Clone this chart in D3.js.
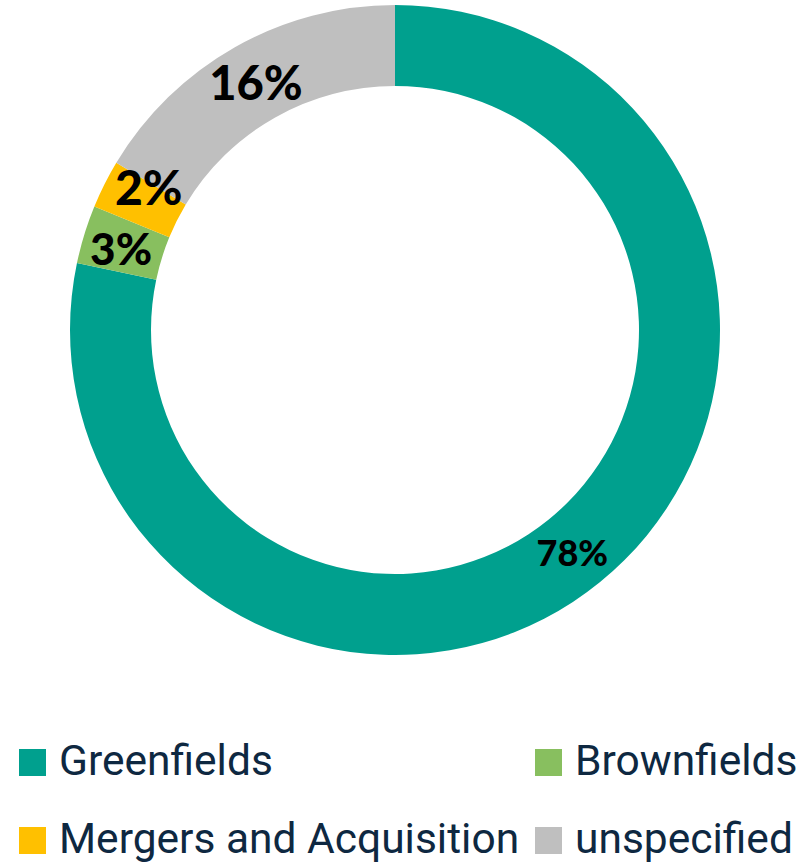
<!DOCTYPE html>
<html><head><meta charset="utf-8">
<script src="https://cdn.jsdelivr.net/npm/d3@7"></script>
<style>body{margin:0;background:#fff}svg{display:block}</style>
</head><body>
<script>
const categories = ["Greenfields", "Brownfields", "Mergers and Acquisition", "unspecified"];
const values = [78.3, 2.9, 2.4, 16.4];
const colors = ["#00A08E", "#88BF5F", "#FFC000", "#BFBFBF"];

// label styling (font size and small nudges from the arc centroid)
const labelSizes = [36, 44, 48, 47];
const labelNudge = [[-2, 2], [-2, 3], [8, -15], [1, 1]];

const W = 810, H = 863;
const svg = d3.select("body").append("svg").attr("width", W).attr("height", H);
const cx = 395, cy = 330, rOuter = 325, rInner = 244;
const data = categories.map((c, i) => ({cat: c, value: values[i], color: colors[i], i}));
const pie = d3.pie().value(d => d.value).sort(null);
const arc = d3.arc().innerRadius(rInner).outerRadius(rOuter);
const g = svg.append("g").attr("transform", `translate(${cx},${cy})`);
const arcs = pie(data);
g.selectAll("path").data(arcs).join("path").attr("d", arc).attr("fill", d => d.data.color);
g.selectAll("text").data(arcs).join("text")
  .attr("transform", d => {
    const [x, y] = arc.centroid(d);
    const [nx, ny] = labelNudge[d.data.i];
    return `translate(${x + nx},${y + ny})`;
  })
  .attr("text-anchor", "middle").attr("dy", "0.36em")
  .attr("font-family", "Lato, 'Open Sans', sans-serif").attr("font-weight", 900)
  .attr("font-size", d => labelSizes[d.data.i]).attr("fill", "#000")
  .text(d => Math.round(d.data.value) + "%");

const legendPos = [[19, 749], [535, 749], [19, 827], [535, 827]];
const lg = svg.append("g");
data.forEach((d, i) => {
  const [x, y] = legendPos[i];
  lg.append("rect").attr("x", x).attr("y", y).attr("width", 27).attr("height", 27).attr("fill", d.color);
  lg.append("text").attr("x", x + 40).attr("y", y + 26)
    .attr("font-family", "Roboto, sans-serif").attr("font-size", 42.5)
    .attr("fill", "#0E2841").text(d.cat);
});
</script>
</body></html>
